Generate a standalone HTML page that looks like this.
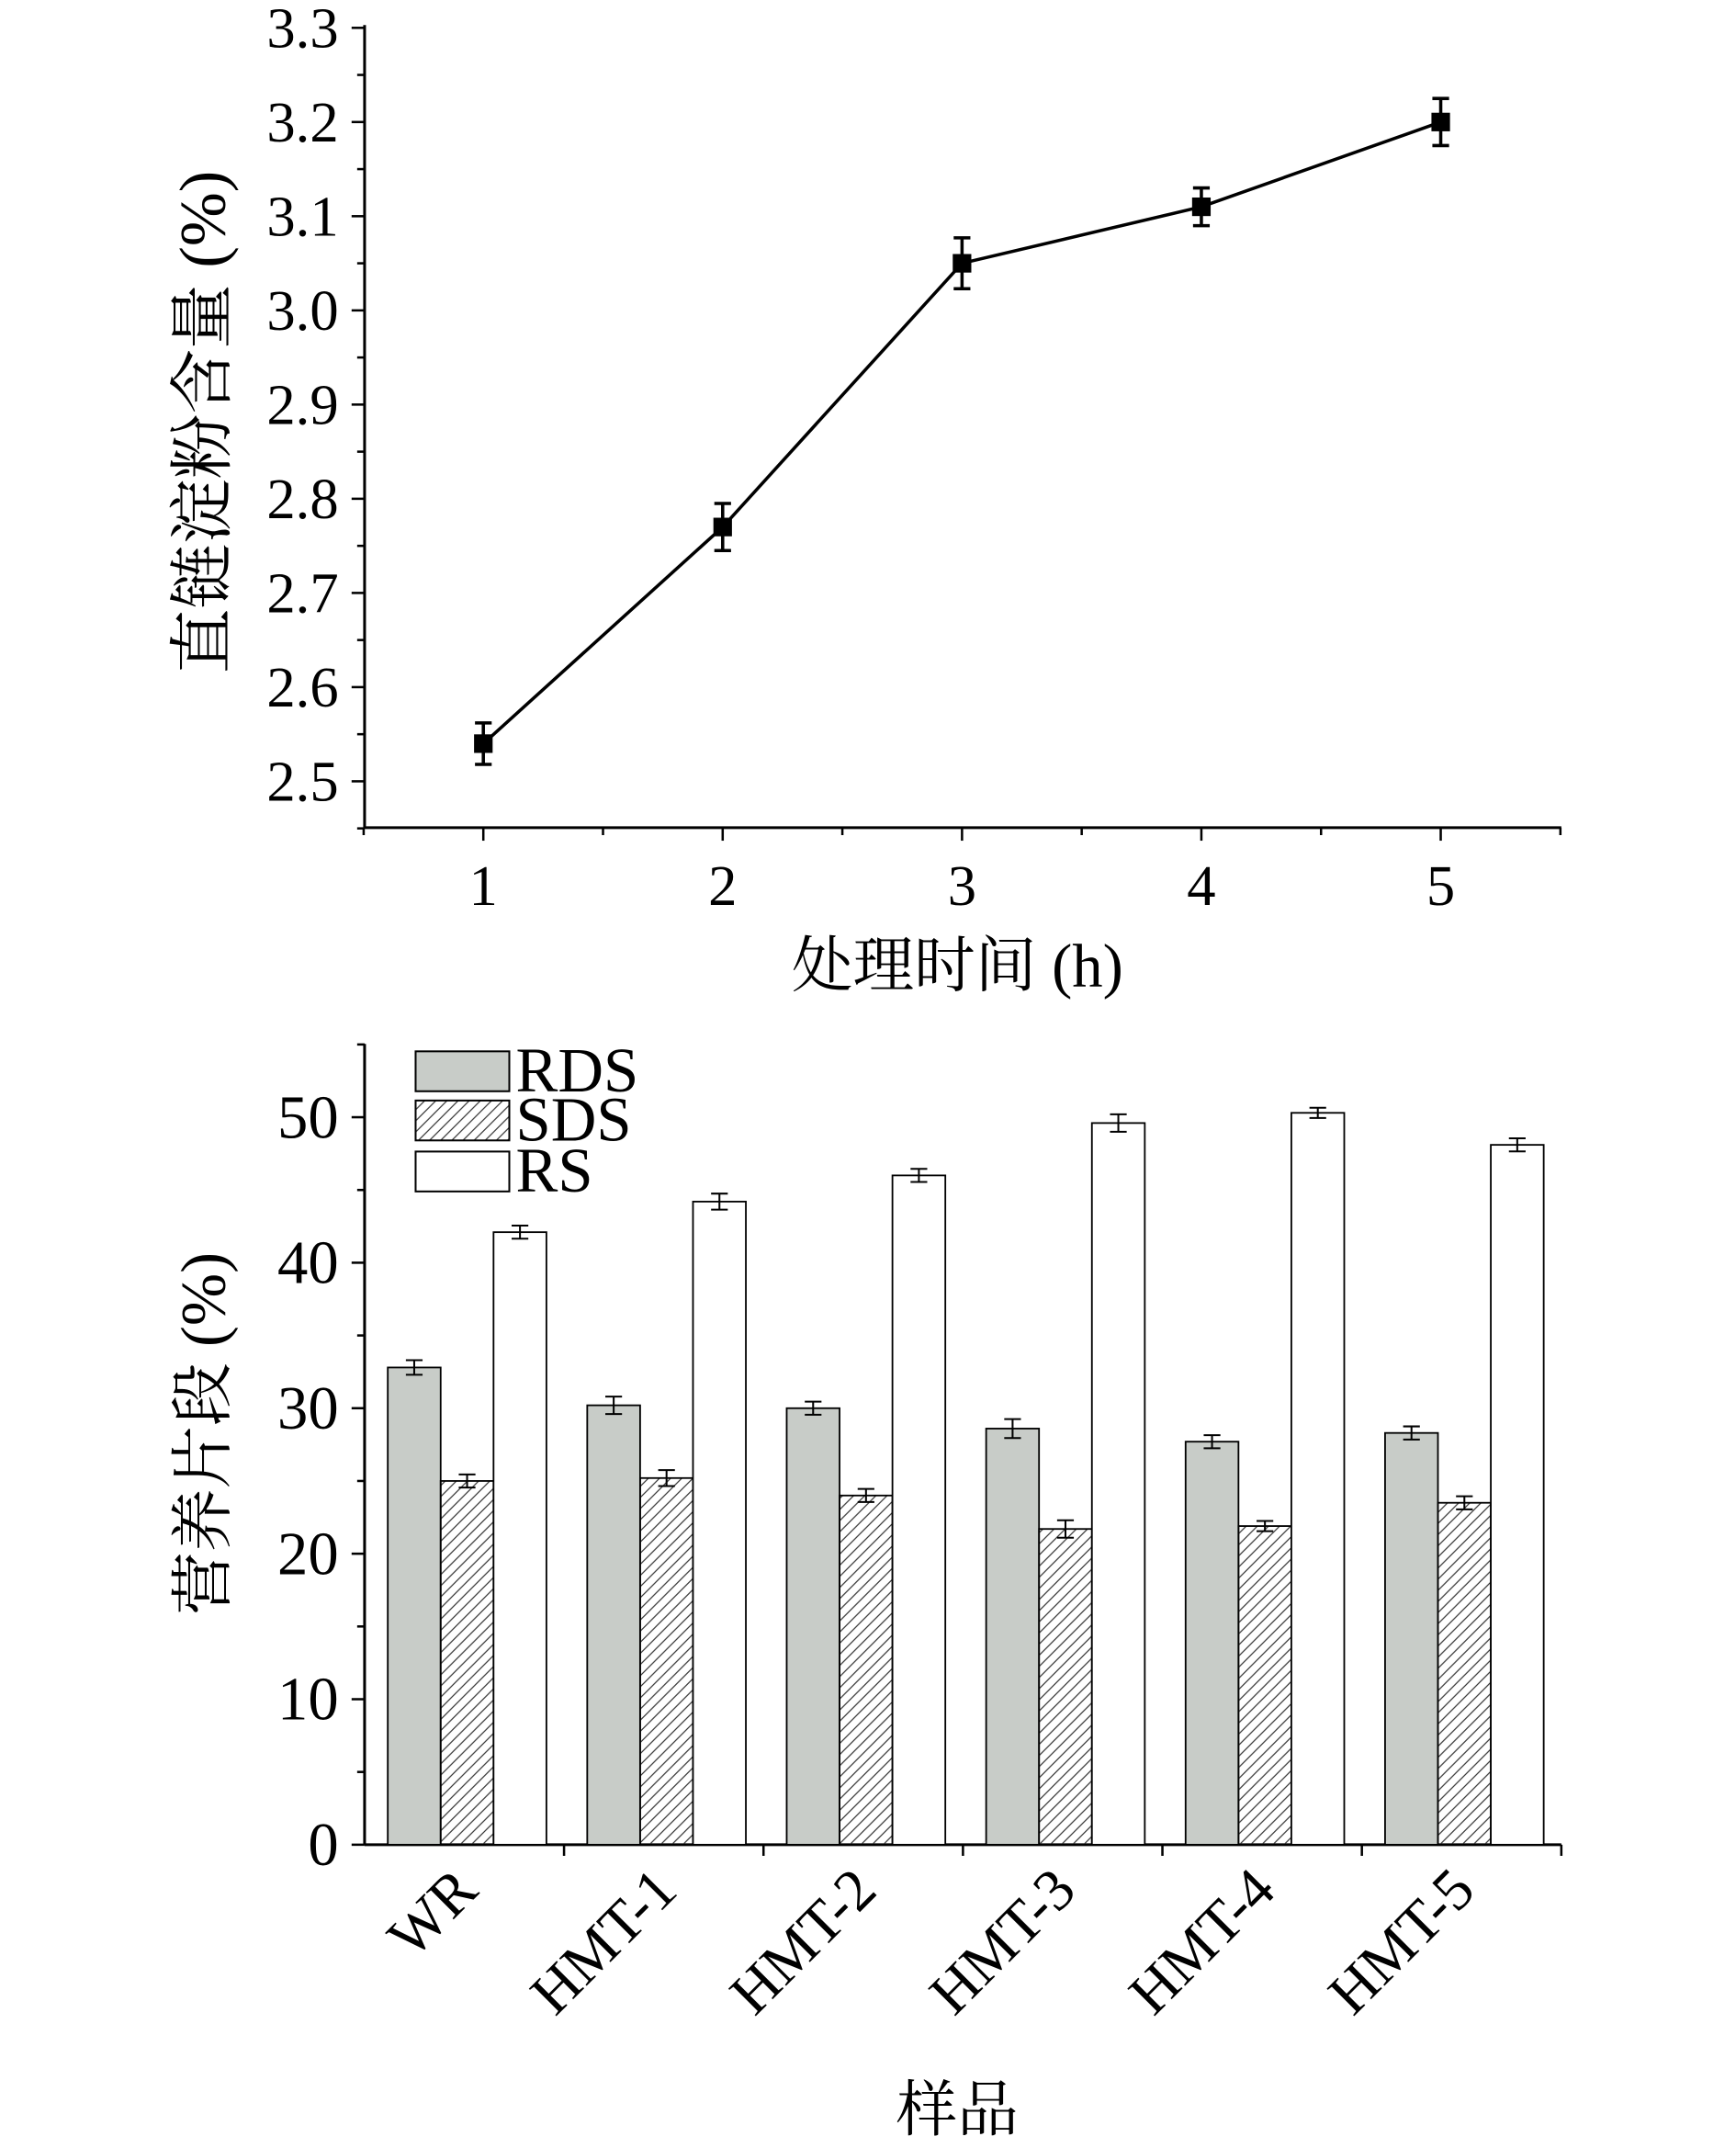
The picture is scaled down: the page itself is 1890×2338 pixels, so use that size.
<!DOCTYPE html>
<html><head><meta charset="utf-8"><style>
html,body{margin:0;padding:0;background:#fff}
svg{display:block;font-family:"Liberation Serif","Noto Serif CJK SC",serif}
</style></head><body>
<svg id="svg" width="1890" height="2338" viewBox="0 0 1890 2338" xmlns="http://www.w3.org/2000/svg">
<defs><pattern id="hatch" patternUnits="userSpaceOnUse" width="12" height="12"><path d="M-3,3 L3,-3 M0,12 L12,0 M9,15 L15,9" stroke="#333" stroke-width="1.2"/></pattern></defs>
<g transform="scale(1.01)">
<g id="top"></g>
<g id="bot"></g>
</g>
</svg>
<script>
const hours=[1,2,3,4,5];
const amylose=[2.54,2.77,3.05,3.11,3.20];
const amyloseErr=[0.022,0.025,0.027,0.02,0.025];
const yTicksTop=[2.5,2.6,2.7,2.8,2.9,3.0,3.1,3.2,3.3];
const samples=["WR","HMT-1","HMT-2","HMT-3","HMT-4","HMT-5"];
const rds=[32.8,30.2,30.0,28.6,27.7,28.3];
const rdsErr=[0.5,0.6,0.45,0.65,0.45,0.45];
const sds=[25.0,25.2,24.0,21.7,21.9,23.5];
const sdsErr=[0.45,0.55,0.45,0.6,0.35,0.45];
const rs=[42.1,44.2,46.0,49.6,50.3,48.1];
const rsErr=[0.45,0.55,0.45,0.6,0.35,0.45];
const yTicksBot=[0,10,20,30,40,50];
const NS="http://www.w3.org/2000/svg";
function mk(p,t,a,txt){const e=document.createElementNS(NS,t);for(const k in a)e.setAttribute(k,a[k]);if(txt!==undefined)e.textContent=txt;p.appendChild(e);return e;}
// ---- top chart
const T=document.getElementById('top');
const tx=v=>521+(v-1)*258, ty=v=>842-(v-2.5)*1015;
const L=393,R=1683,B=892,TOP=27;
let e;
e=mk(T,'line',{x1:L,y1:TOP,x2:L,y2:B,stroke:'#000','stroke-width':3});

e=mk(T,'line',{x1:L,y1:B,x2:R,y2:B,stroke:'#000','stroke-width':3});

for(let v=2.45;v<=3.301;v+=0.05){const y=ty(v);const maj=Math.abs(v*10-Math.round(v*10))<0.01;mk(T,'line',{x1:L-(maj?14:8),y1:y,x2:L,y2:y,stroke:'#000','stroke-width':2.5});}
yTicksTop.forEach(v=>{e=mk(T,'text',{x:L-28,y:ty(v)+21,'text-anchor':'end','font-size':62},v.toFixed(1));
});
for(let v=0.5;v<=5.51;v+=0.5){const x=tx(v);const maj=Math.abs(v-Math.round(v))<0.01;mk(T,'line',{x1:x,y1:B,x2:x,y2:B+(maj?14:8),stroke:'#000','stroke-width':2.5});}
hours.forEach(h=>{e=mk(T,'text',{x:tx(h),y:975,'text-anchor':'middle','font-size':62},String(h));
});
e=mk(T,'polyline',{points:hours.map((h,i)=>tx(h)+','+ty(amylose[i])).join(' '),fill:'none',stroke:'#000','stroke-width':3.5});

hours.forEach((h,i)=>{const x=tx(h),y=ty(amylose[i]),d=amyloseErr[i]*1015;
mk(T,'path',{d:`M${x},${y-d}V${y+d}M${x-9},${y-d}H${x+9}M${x-9},${y+d}H${x+9}`,stroke:'#000','stroke-width':3.5,fill:'none'});
e=mk(T,'rect',{x:x-10,y:y-10,width:20,height:20,fill:'#000'});
});
e=mk(T,'text',{x:1032,y:1063,'text-anchor':'middle','font-size':66},'处理时间 (h)');

e=mk(T,'text',{x:0,y:0,'text-anchor':'middle','font-size':70,transform:'translate(242,455) rotate(-90)'},'直链淀粉含量 (%)');

// ---- bottom chart
const G=document.getElementById('bot');
const bB=1988,bT=1125;
const by=v=>bB-v*15.68;
const gw=(R-L)/6, bw=57;
e=mk(G,'line',{x1:L,y1:bT,x2:L,y2:bB,stroke:'#000','stroke-width':3});

e=mk(G,'line',{x1:L,y1:bB,x2:R,y2:bB,stroke:'#000','stroke-width':3});

for(let v=0;v<=55;v+=5){mk(G,'line',{x1:L-(v%10==0?14:8),y1:by(v),x2:L,y2:by(v),stroke:'#000','stroke-width':2.5});}
yTicksBot.forEach(v=>{e=mk(G,'text',{x:L-28,y:by(v)+22,'text-anchor':'end','font-size':66},String(v));
});
for(let i=1;i<=6;i++){const x=L+i*gw;mk(G,'line',{x1:x,y1:bB,x2:x,y2:bB+12,stroke:'#000','stroke-width':2.5});}
const series=[[rds,rdsErr,'#c8ccc8','rds'],[sds,sdsErr,'url(#hatch)','sds'],[rs,rsErr,'#fff','rs']];
samples.forEach((s,g)=>{const x0=L+g*gw+25;
series.forEach(([vals,errs,fill,nm],k)=>{const x=x0+k*bw,y=by(vals[g]);
e=mk(G,'rect',{x:x,y:y,width:bw,height:bB-y,fill:fill,stroke:'#000','stroke-width':1.8});

const cx=x+bw/2,d=errs[g]*15.68;
mk(G,'path',{d:`M${cx},${y-d}V${y+d}M${cx-9},${y-d}H${cx+9}M${cx-9},${y+d}H${cx+9}`,stroke:'#000','stroke-width':2,fill:'none'});});
const lx=x0+bw*1.5+14,ly=2040;
e=mk(G,'text',{x:0,y:0,'text-anchor':'end','font-size':64,transform:`translate(${lx},${ly}) rotate(-45)`},s);
});
const leg=[['RDS','#c8ccc8',1133],['SDS','url(#hatch)',1186],['RS','#fff',1241]];
leg.forEach(([t,f,y])=>{e=mk(G,'rect',{x:448,y:y,width:101,height:43,fill:f,stroke:'#000','stroke-width':2});

e=mk(G,'text',{x:556,y:y+43,'font-size':68},t);
});
e=mk(G,'text',{x:1032,y:2296,'text-anchor':'middle','font-size':66},'样品');

e=mk(G,'text',{x:0,y:0,'text-anchor':'middle','font-size':68,transform:'translate(242,1545) rotate(-90)'},'营养片段 (%)');

</script>
</body></html>
